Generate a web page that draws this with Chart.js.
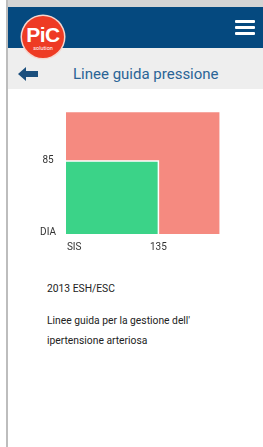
<!DOCTYPE html>
<html>
<head>
<meta charset="utf-8">
<script src="https://cdn.jsdelivr.net/npm/chart.js@4"></script>
<style>
  html, body { margin: 0; padding: 0; background: #fff; font-family: Roboto, sans-serif; }
  body { width: 263px; height: 447px; position: relative; overflow: hidden; }
  .frame-top { position: absolute; left: 6px; top: 0; width: 257px; height: 7px; background: #d4d4d4; }
  .frame-left { position: absolute; left: 6px; top: 0; width: 2px; height: 447px; background: #bdbdbd; }
  .header { position: absolute; left: 8px; top: 7px; width: 255px; height: 41px; background: #05497f; }
  .burger { position: absolute; right: 8px; top: 13px; width: 20px; }
  .burger span { display: block; height: 3px; background: #fff; margin-bottom: 3px; border-radius: 1px; }
  .subbar { position: absolute; left: 8px; top: 48px; width: 255px; height: 41px; background: #eeeeee; }
  .subbar .title { position: absolute; left: 65px; top: 17px; font-size: 15px; color: #2a6496; }
  .subbar svg { position: absolute; left: 10px; top: 19px; }
  .logo { position: absolute; left: 22px; top: 16px; width: 42px; height: 42px; border-radius: 50%;
          background: #ee3b24; box-shadow: 0 0 0 1.5px #f6d6cf; color: #fff; text-align: center; }
  .logo .pic { font: bold 21px "Liberation Sans Narrow", "Liberation Sans", sans-serif; letter-spacing: -0.5px;
               margin-top: 10px; line-height: 18px; }
  .logo .sol { font-size: 5.5px; line-height: 8px; }
  .chart-box { position: absolute; left: 30px; top: 96px; width: 190px; height: 158px; }
  .notes { position: absolute; left: 47px; top: 279px; width: 200px; font-size: 10.3px; color: #222; line-height: 19.5px; }
  .notes p { margin: 0 0 12.5px 0; }
</style>
</head>
<body>
<div class="frame-top"></div>
<div class="frame-left"></div>
<div class="header">
  <div class="burger"><span></span><span></span><span></span></div>
</div>
<div class="subbar">
  <svg width="20" height="14" viewBox="0 0 20 14"><path d="M0 7 L8 0 L8 4 L20 4 L20 10 L8 10 L8 14 Z" fill="#1b4f7d"/></svg>
  <div class="title">Linee guida pressione</div>
</div>
<div class="logo"><div class="pic">PiC</div><div class="sol">solution</div></div>

<div class="chart-box"><canvas id="bpChart"></canvas></div>

<div class="notes">
  <p>2013 ESH/ESC</p>
  <p>Linee guida per la gestione dell'<br>ipertensione arteriosa</p>
</div>

<script>
// zone: normale (verde) e ipertensione (rosso) - limiti superiori
const zones = ['Normale', 'Ipertensione'];
const sisLimits = [135, 225];
const diaLimits = [85, 142];
const zoneColors = ['#3bd388', '#f58a80'];

// etichette assi
const xTickValues = [12, 135];
const xTickLabels = ['SIS', '135'];
const yTickValues = [2, 85];
const yTickLabels = ['DIA', '85'];

function zonePoints(i) {
    return [
        { x: 0, y: diaLimits[i] },
        { x: sisLimits[i], y: diaLimits[i] },
        { x: sisLimits[i], y: 0 }
    ];
}

const ctx = document.getElementById('bpChart').getContext('2d');
new Chart(ctx, {
    type: 'line',
    data: {
        datasets: zones.map((name, i) => ({
            label: name,
            data: zonePoints(i),
            borderColor: i === 0 ? '#ffffff' : 'rgba(255,255,255,0.5)',
            borderWidth: i === 0 ? 1.5 : 1,
            backgroundColor: zoneColors[i],
            fill: 'origin',
            pointRadius: 0,
            tension: 0
        }))
    },
    options: {
        responsive: true,
        maintainAspectRatio: false,
        animation: false,
        layout: { padding: 0 },
        plugins: { legend: { display: false }, tooltip: { enabled: false } },
        scales: {
            x: {
                type: 'linear',
                min: 0,
                max: sisLimits[1],
                grid: { display: false, drawTicks: false },
                border: { display: false },
                afterBuildTicks: s => { s.ticks = xTickValues.map(v => ({ value: v })); },
                afterFit: s => { s.height = 20; },
                ticks: {
                    color: '#333',
                    font: { family: 'Roboto', size: 10 },
                    padding: 7,
                    maxRotation: 0,
                    autoSkip: false,
                    callback: (v, i) => xTickLabels[i]
                }
            },
            y: {
                min: 0,
                max: diaLimits[1],
                grid: { display: false, drawTicks: false },
                border: { display: false },
                afterBuildTicks: s => { s.ticks = yTickValues.map(v => ({ value: v })); },
                afterFit: s => { s.width = 36; },
                ticks: {
                    color: '#333',
                    font: { family: 'Roboto', size: 10 },
                    padding: 10,
                    crossAlign: 'center',
                    autoSkip: false,
                    callback: (v, i) => yTickLabels[i]
                }
            }
        }
    }
});
</script>
</body>
</html>
